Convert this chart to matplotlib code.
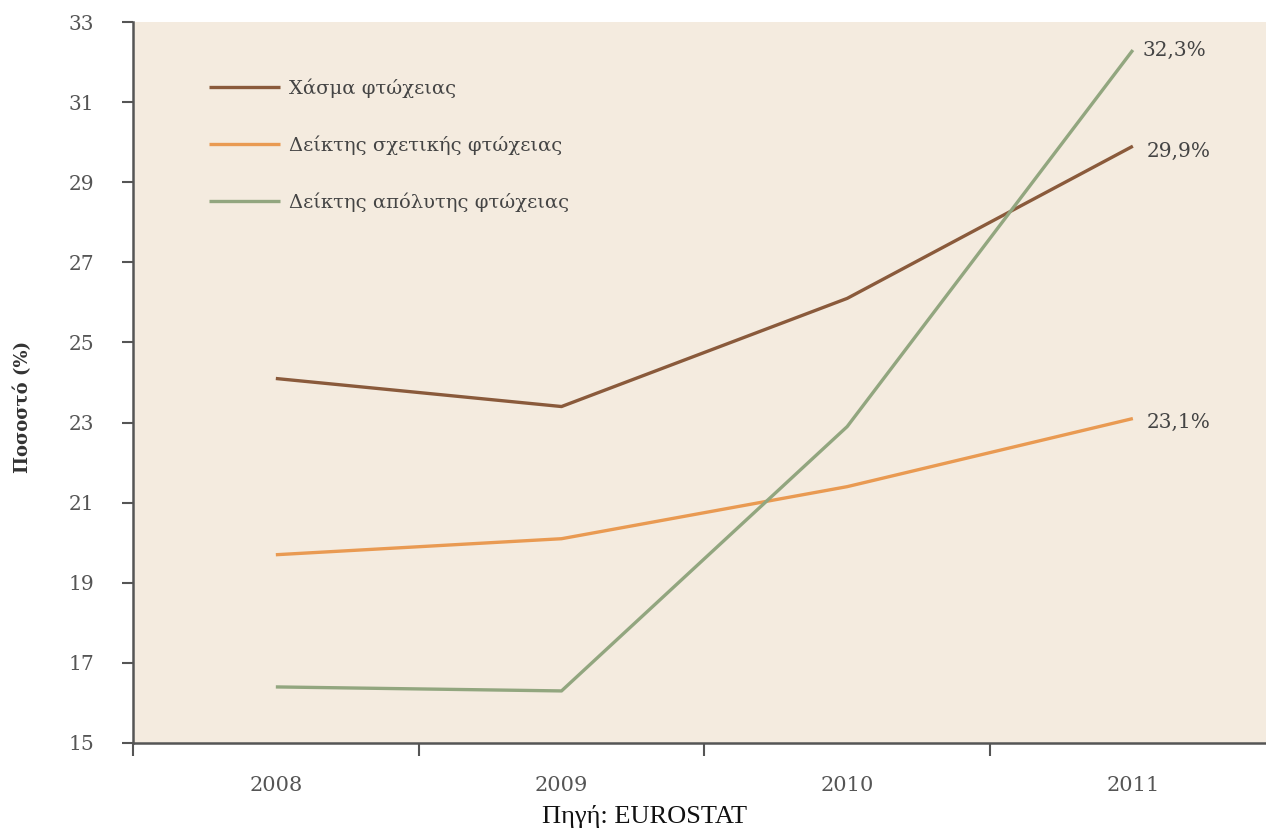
import matplotlib
matplotlib.use("Agg")
import matplotlib.pyplot as plt

years = ["2008", "2009", "2010", "2011"]
gap = [24.1, 23.4, 26.1, 29.9]          # Χάσμα φτώχειας
relative = [19.7, 20.1, 21.4, 23.1]     # Δείκτης σχετικής φτώχειας
absolute = [16.4, 16.3, 22.9, 32.3]     # Δείκτης απόλυτης φτώχειας
series_names = ["Χάσμα φτώχειας", "Δείκτης σχετικής φτώχειας", "Δείκτης απόλυτης φτώχειας"]
end_labels = ["29,9%", "23,1%", "32,3%"]
yticks = [15, 17, 19, 21, 23, 25, 27, 29, 31, 33]

plt.rcParams['font.family'] = ["DejaVu Serif", "Liberation Serif"]

fig = plt.figure(figsize=(12.66, 8.34), dpi=100)
ax = fig.add_axes([133/1266, 1-743/834, 1-133/1266, (743-22)/834])
ax.set_facecolor("#f4ebdf")

colors = ["#8a5a3b", "#e99a52", "#92a67f"]
x = list(range(len(years)))
for vals, name, c in zip([gap, relative, absolute], series_names, colors):
    ax.plot(x, vals, color=c, lw=2.4, label=name, solid_capstyle="butt")

txtc = "#444444"
for vals, lab, dx, dy in zip([gap, relative, absolute], end_labels, [10, 10, 7], [-4, -3, 0]):
    ax.annotate(lab, (x[-1], vals[-1]), xytext=(dx, dy), textcoords="offset points",
                va="center", ha="left", fontsize=14.5, color=txtc)

ax.set_xlim(-0.5, 3.466)
ax.set_ylim(15, 33)
ax.set_yticks(yticks)
ax.set_yticklabels([str(t) for t in yticks])
ax.set_xticks(x)
ax.set_xticklabels(years)
ax.set_xticks([-0.5, 0.5, 1.5, 2.5], minor=True)
ax.tick_params(axis="x", which="major", length=0, pad=24, labelsize=15, labelcolor="#555555")
ax.tick_params(axis="x", which="minor", length=9, width=1.5, color="#555555", direction="out")
ax.tick_params(axis="y", length=8, width=1.5, color="#555555", direction="out", pad=20,
               labelsize=14.5, labelcolor="#555555")

for s in ["top", "right"]:
    ax.spines[s].set_visible(False)
for s in ["left", "bottom"]:
    ax.spines[s].set_color("#555555")
    ax.spines[s].set_linewidth(1.8)

fig.text(23/1266, 1-407/834, "Ποσοστό (%)", rotation=90, ha="center", va="center",
         fontsize=13, fontweight="bold", color="#333333")

leg = ax.legend(loc="upper left", bbox_to_anchor=(0.0606, 0.933), frameon=False,
                handlelength=3.65, handletextpad=0.46, labelspacing=1.94, fontsize=14,
                borderaxespad=0)
for t in leg.get_texts():
    t.set_color(txtc)

fig.text(645/1266, 1-823/834, "Πηγή: EUROSTAT", ha="center", va="baseline", fontsize=19,
         color="#111111", family="Liberation Serif")

fig.savefig("out.png", dpi=100, facecolor="white")
